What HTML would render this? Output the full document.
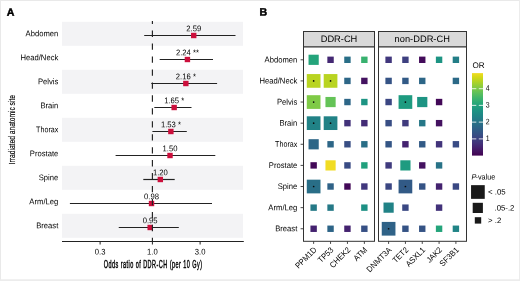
<!DOCTYPE html>
<html><head><meta charset="utf-8"><style>
html,body{margin:0;padding:0;background:#fff;width:520px;height:281px;overflow:hidden;}
text{font-family:"Liberation Sans", sans-serif;}
</style></head><body>
<svg width="520" height="281" viewBox="0 0 520 281" style="display:block;will-change:transform" font-family='"Liberation Sans", sans-serif'>
<rect x="0" y="0" width="520" height="281" fill="#ffffff"/>
<rect x="0" y="0" width="520" height="1" fill="#e9e9e9"/>
<rect x="0" y="0" width="1" height="281" fill="#e9e9e9"/>
<rect x="519" y="0" width="1" height="281" fill="#ececec"/>
<rect x="0" y="279.3" width="520" height="1.7" fill="#ececec"/>
<text transform="translate(6.70,15.70) rotate(0.05)" font-size="10.6" text-anchor="start" fill="#000" font-weight="bold" stroke="#000" stroke-width="0.45">A</text>
<text transform="translate(14.8,164.2) rotate(-90) scale(0.72,1)" x="0" y="0" font-size="9.4" fill="#000000" stroke="#000000" stroke-width="0.15" textLength="96.1" lengthAdjust="spacing">Irradiated anatomic site</text>
<rect x="62" y="21.80" width="181" height="24" fill="#f3f3f5"/>
<rect x="62" y="69.80" width="181" height="24" fill="#f3f3f5"/>
<rect x="62" y="117.80" width="181" height="24" fill="#f3f3f5"/>
<rect x="62" y="165.80" width="181" height="24" fill="#f3f3f5"/>
<rect x="62" y="213.80" width="181" height="24" fill="#f3f3f5"/>
<text transform="translate(58.30,36.35) rotate(0.05) scale(0.935,1)" font-size="8.2" text-anchor="end" fill="#000000" >Abdomen</text>
<text transform="translate(58.30,60.35) rotate(0.05) scale(0.935,1)" font-size="8.2" text-anchor="end" fill="#000000" >Head/Neck</text>
<text transform="translate(58.30,84.35) rotate(0.05) scale(0.935,1)" font-size="8.2" text-anchor="end" fill="#000000" >Pelvis</text>
<text transform="translate(58.30,108.35) rotate(0.05) scale(0.935,1)" font-size="8.2" text-anchor="end" fill="#000000" >Brain</text>
<text transform="translate(58.30,132.35) rotate(0.05) scale(0.87,1)" font-size="8.2" text-anchor="end" fill="#000000" >Thorax</text>
<text transform="translate(58.30,156.35) rotate(0.05) scale(0.935,1)" font-size="8.2" text-anchor="end" fill="#000000" >Prostate</text>
<text transform="translate(58.30,180.35) rotate(0.05) scale(0.935,1)" font-size="8.2" text-anchor="end" fill="#000000" >Spine</text>
<text transform="translate(58.30,204.35) rotate(0.05) scale(0.935,1)" font-size="8.2" text-anchor="end" fill="#000000" >Arm/Leg</text>
<text transform="translate(58.30,228.35) rotate(0.05) scale(0.935,1)" font-size="8.2" text-anchor="end" fill="#000000" >Breast</text>
<line x1="144.2" y1="35.50" x2="235.5" y2="35.50" stroke="#222" stroke-width="1.2"/>
<rect x="191.03" y="32.80" width="5.4" height="5.4" fill="#cc0f3c"/>
<text transform="translate(193.73,31.20) rotate(0.05) scale(0.935,1)" font-size="8.2" text-anchor="middle" fill="#000000" xml:space="preserve">2.59</text>
<line x1="159.7" y1="59.50" x2="213.0" y2="59.50" stroke="#222" stroke-width="1.2"/>
<rect x="184.72" y="56.80" width="5.4" height="5.4" fill="#cc0f3c"/>
<text transform="translate(187.42,55.20) rotate(0.05) scale(0.935,1)" font-size="8.2" text-anchor="middle" fill="#000000" xml:space="preserve">2.24 **</text>
<line x1="151.3" y1="83.50" x2="217.1" y2="83.50" stroke="#222" stroke-width="1.2"/>
<rect x="183.15" y="80.80" width="5.4" height="5.4" fill="#cc0f3c"/>
<text transform="translate(185.85,79.20) rotate(0.05) scale(0.935,1)" font-size="8.2" text-anchor="middle" fill="#000000" xml:space="preserve">2.16 *</text>
<line x1="154.3" y1="107.50" x2="191.5" y2="107.50" stroke="#222" stroke-width="1.2"/>
<rect x="171.45" y="104.80" width="5.4" height="5.4" fill="#cc0f3c"/>
<text transform="translate(174.15,103.20) rotate(0.05) scale(0.935,1)" font-size="8.2" text-anchor="middle" fill="#000000" xml:space="preserve">1.65 *</text>
<line x1="152.4" y1="131.50" x2="186.8" y2="131.50" stroke="#222" stroke-width="1.2"/>
<rect x="168.17" y="128.80" width="5.4" height="5.4" fill="#cc0f3c"/>
<text transform="translate(170.87,127.20) rotate(0.05) scale(0.935,1)" font-size="8.2" text-anchor="middle" fill="#000000" xml:space="preserve">1.53 *</text>
<line x1="115.6" y1="155.50" x2="215.3" y2="155.50" stroke="#222" stroke-width="1.2"/>
<rect x="167.31" y="152.80" width="5.4" height="5.4" fill="#cc0f3c"/>
<text transform="translate(170.01,151.20) rotate(0.05) scale(0.935,1)" font-size="8.2" text-anchor="middle" fill="#000000" xml:space="preserve">1.50</text>
<line x1="143.3" y1="179.50" x2="174.7" y2="179.50" stroke="#222" stroke-width="1.2"/>
<rect x="157.62" y="176.80" width="5.4" height="5.4" fill="#cc0f3c"/>
<text transform="translate(160.32,175.20) rotate(0.05) scale(0.935,1)" font-size="8.2" text-anchor="middle" fill="#000000" xml:space="preserve">1.20</text>
<line x1="69.9" y1="203.50" x2="212.0" y2="203.50" stroke="#222" stroke-width="1.2"/>
<rect x="148.82" y="200.80" width="5.4" height="5.4" fill="#cc0f3c"/>
<text transform="translate(151.52,199.20) rotate(0.05) scale(0.935,1)" font-size="8.2" text-anchor="middle" fill="#000000" xml:space="preserve">0.98</text>
<line x1="118.75" y1="227.50" x2="178.8" y2="227.50" stroke="#222" stroke-width="1.2"/>
<rect x="147.47" y="224.80" width="5.4" height="5.4" fill="#cc0f3c"/>
<text transform="translate(150.17,223.20) rotate(0.05) scale(0.935,1)" font-size="8.2" text-anchor="middle" fill="#000000" xml:space="preserve">0.95</text>
<line x1="152.4" y1="21" x2="152.4" y2="241.5" stroke="#222" stroke-width="1.15" stroke-dasharray="6.3 6.65" stroke-dashoffset="3.35"/>
<line x1="62" y1="241.5" x2="243.8" y2="241.5" stroke="#222" stroke-width="1.1"/>
<line x1="100.11" y1="241.5" x2="100.11" y2="244.5" stroke="#222" stroke-width="1"/>
<text transform="translate(100.11,254.50) rotate(0.05) scale(0.935,1)" font-size="8.2" text-anchor="middle" fill="#000000" >0.3</text>
<line x1="152.40" y1="241.5" x2="152.40" y2="244.5" stroke="#222" stroke-width="1"/>
<text transform="translate(152.40,254.50) rotate(0.05) scale(0.935,1)" font-size="8.2" text-anchor="middle" fill="#000000" >1.0</text>
<line x1="200.11" y1="241.5" x2="200.11" y2="244.5" stroke="#222" stroke-width="1"/>
<text transform="translate(200.11,254.50) rotate(0.05) scale(0.935,1)" font-size="8.2" text-anchor="middle" fill="#000000" >3.0</text>
<text transform="translate(103.7,267.6) scale(0.53,1)" x="0" y="0" font-size="10.4" fill="#000000" stroke="#000000" stroke-width="0.42" textLength="185.7" lengthAdjust="spacing">Odds ratio of DDR-CH (per 10 Gy)</text>
<text transform="translate(259.40,15.60) rotate(0.05)" font-size="10.6" text-anchor="start" fill="#000" font-weight="bold" stroke="#000" stroke-width="0.45">B</text>
<rect x="303.5" y="31.5" width="71.0" height="15.5" fill="#d9d9d9" stroke="#333" stroke-width="1"/>
<text transform="translate(339.00,42.00) rotate(0.05)" font-size="9.3" text-anchor="middle" fill="#000000" >DDR-CH</text>
<rect x="303.5" y="47.0" width="71.0" height="194.30" fill="#fff" stroke="#333" stroke-width="1"/>
<line x1="313.64" y1="241.3" x2="313.64" y2="243.90" stroke="#333" stroke-width="0.9"/>
<text transform="translate(313.04,246.30) rotate(-45) scale(0.935,1)" font-size="8.2" text-anchor="end" fill="#000000" dominant-baseline="hanging">PPM1D</text>
<line x1="330.55" y1="241.3" x2="330.55" y2="243.90" stroke="#333" stroke-width="0.9"/>
<text transform="translate(329.95,246.30) rotate(-45) scale(0.935,1)" font-size="8.2" text-anchor="end" fill="#000000" dominant-baseline="hanging">TP53</text>
<line x1="347.45" y1="241.3" x2="347.45" y2="243.90" stroke="#333" stroke-width="0.9"/>
<text transform="translate(346.85,246.30) rotate(-45) scale(0.935,1)" font-size="8.2" text-anchor="end" fill="#000000" dominant-baseline="hanging">CHEK2</text>
<line x1="364.36" y1="241.3" x2="364.36" y2="243.90" stroke="#333" stroke-width="0.9"/>
<text transform="translate(363.76,246.30) rotate(-45) scale(0.935,1)" font-size="8.2" text-anchor="end" fill="#000000" dominant-baseline="hanging">ATM</text>
<rect x="378.5" y="31.5" width="88.0" height="15.5" fill="#d9d9d9" stroke="#333" stroke-width="1"/>
<text transform="translate(422.25,42.00) rotate(0.05)" font-size="9.3" text-anchor="middle" fill="#000000" >non-DDR-CH</text>
<rect x="378.5" y="47.0" width="88.0" height="194.30" fill="#fff" stroke="#333" stroke-width="1"/>
<line x1="388.60" y1="241.3" x2="388.60" y2="243.90" stroke="#333" stroke-width="0.9"/>
<text transform="translate(388.00,246.30) rotate(-45) scale(0.935,1)" font-size="8.2" text-anchor="end" fill="#000000" dominant-baseline="hanging">DNMT3A</text>
<line x1="405.42" y1="241.3" x2="405.42" y2="243.90" stroke="#333" stroke-width="0.9"/>
<text transform="translate(404.82,246.30) rotate(-45) scale(0.935,1)" font-size="8.2" text-anchor="end" fill="#000000" dominant-baseline="hanging">TET2</text>
<line x1="422.25" y1="241.3" x2="422.25" y2="243.90" stroke="#333" stroke-width="0.9"/>
<text transform="translate(421.65,246.30) rotate(-45) scale(0.935,1)" font-size="8.2" text-anchor="end" fill="#000000" dominant-baseline="hanging">ASXL1</text>
<line x1="439.08" y1="241.3" x2="439.08" y2="243.90" stroke="#333" stroke-width="0.9"/>
<text transform="translate(438.48,246.30) rotate(-45) scale(0.935,1)" font-size="8.2" text-anchor="end" fill="#000000" dominant-baseline="hanging">JAK2</text>
<line x1="455.90" y1="241.3" x2="455.90" y2="243.90" stroke="#333" stroke-width="0.9"/>
<text transform="translate(455.30,246.30) rotate(-45) scale(0.935,1)" font-size="8.2" text-anchor="end" fill="#000000" dominant-baseline="hanging">SF3B1</text>
<text transform="translate(297.30,62.40) rotate(0.05) scale(0.935,1)" font-size="8.2" text-anchor="end" fill="#000000" >Abdomen</text>
<line x1="300.6" y1="59.80" x2="303.5" y2="59.80" stroke="#333" stroke-width="0.9"/>
<text transform="translate(297.30,83.52) rotate(0.05) scale(0.935,1)" font-size="8.2" text-anchor="end" fill="#000000" >Head/Neck</text>
<line x1="300.6" y1="80.92" x2="303.5" y2="80.92" stroke="#333" stroke-width="0.9"/>
<text transform="translate(297.30,104.64) rotate(0.05) scale(0.935,1)" font-size="8.2" text-anchor="end" fill="#000000" >Pelvis</text>
<line x1="300.6" y1="102.04" x2="303.5" y2="102.04" stroke="#333" stroke-width="0.9"/>
<text transform="translate(297.30,125.76) rotate(0.05) scale(0.935,1)" font-size="8.2" text-anchor="end" fill="#000000" >Brain</text>
<line x1="300.6" y1="123.16" x2="303.5" y2="123.16" stroke="#333" stroke-width="0.9"/>
<text transform="translate(297.30,146.88) rotate(0.05) scale(0.87,1)" font-size="8.2" text-anchor="end" fill="#000000" >Thorax</text>
<line x1="300.6" y1="144.28" x2="303.5" y2="144.28" stroke="#333" stroke-width="0.9"/>
<text transform="translate(297.30,168.00) rotate(0.05) scale(0.935,1)" font-size="8.2" text-anchor="end" fill="#000000" >Prostate</text>
<line x1="300.6" y1="165.40" x2="303.5" y2="165.40" stroke="#333" stroke-width="0.9"/>
<text transform="translate(297.30,189.12) rotate(0.05) scale(0.935,1)" font-size="8.2" text-anchor="end" fill="#000000" >Spine</text>
<line x1="300.6" y1="186.52" x2="303.5" y2="186.52" stroke="#333" stroke-width="0.9"/>
<text transform="translate(297.30,210.24) rotate(0.05) scale(0.935,1)" font-size="8.2" text-anchor="end" fill="#000000" >Arm/Leg</text>
<line x1="300.6" y1="207.64" x2="303.5" y2="207.64" stroke="#333" stroke-width="0.9"/>
<text transform="translate(297.30,231.36) rotate(0.05) scale(0.935,1)" font-size="8.2" text-anchor="end" fill="#000000" >Breast</text>
<line x1="300.6" y1="228.76" x2="303.5" y2="228.76" stroke="#333" stroke-width="0.9"/>
<rect x="308.54" y="54.70" width="10.2" height="10.2" fill="#24a47b"/>
<rect x="327.35" y="56.60" width="6.4" height="6.4" fill="#442873"/>
<rect x="344.25" y="56.60" width="6.4" height="6.4" fill="#296e87"/>
<rect x="361.16" y="56.60" width="6.4" height="6.4" fill="#38b16f"/>
<rect x="385.40" y="56.60" width="6.4" height="6.4" fill="#41377d"/>
<rect x="402.22" y="56.60" width="6.4" height="6.4" fill="#3e4080"/>
<rect x="419.05" y="56.60" width="6.4" height="6.4" fill="#430b5a"/>
<rect x="435.88" y="56.60" width="6.4" height="6.4" fill="#1d9483"/>
<rect x="452.70" y="56.60" width="6.4" height="6.4" fill="#237e87"/>
<rect x="306.79" y="74.07" width="13.7" height="13.7" fill="#b9d421"/>
<circle cx="313.64" cy="80.92" r="0.85" fill="#0a0a0a"/>
<rect x="323.70" y="74.07" width="13.7" height="13.7" fill="#b9d421"/>
<circle cx="330.55" cy="80.92" r="0.85" fill="#0a0a0a"/>
<rect x="344.25" y="77.72" width="6.4" height="6.4" fill="#2d6687"/>
<rect x="361.16" y="77.72" width="6.4" height="6.4" fill="#441260"/>
<rect x="385.40" y="77.72" width="6.4" height="6.4" fill="#355385"/>
<rect x="402.22" y="77.72" width="6.4" height="6.4" fill="#325a86"/>
<rect x="419.05" y="77.72" width="6.4" height="6.4" fill="#2d6687"/>
<rect x="452.70" y="77.72" width="6.4" height="6.4" fill="#2b6987"/>
<rect x="306.79" y="95.19" width="13.7" height="13.7" fill="#7fca46"/>
<circle cx="313.64" cy="102.04" r="0.85" fill="#0a0a0a"/>
<rect x="325.45" y="96.94" width="10.2" height="10.2" fill="#64c357"/>
<rect x="344.25" y="98.84" width="6.4" height="6.4" fill="#2d6687"/>
<rect x="361.16" y="98.84" width="6.4" height="6.4" fill="#1d9483"/>
<rect x="385.40" y="98.84" width="6.4" height="6.4" fill="#3b4682"/>
<rect x="398.57" y="95.19" width="13.7" height="13.7" fill="#1e9b80"/>
<circle cx="405.42" cy="102.04" r="0.85" fill="#0a0a0a"/>
<rect x="417.15" y="96.94" width="10.2" height="10.2" fill="#1d9483"/>
<rect x="435.88" y="98.84" width="6.4" height="6.4" fill="#420857"/>
<rect x="306.79" y="116.31" width="13.7" height="13.7" fill="#218286"/>
<circle cx="313.64" cy="123.16" r="0.85" fill="#0a0a0a"/>
<rect x="323.70" y="116.31" width="13.7" height="13.7" fill="#218286"/>
<circle cx="330.55" cy="123.16" r="0.85" fill="#0a0a0a"/>
<rect x="344.25" y="119.96" width="6.4" height="6.4" fill="#42327a"/>
<rect x="361.16" y="119.96" width="6.4" height="6.4" fill="#432c76"/>
<rect x="385.40" y="119.96" width="6.4" height="6.4" fill="#384e84"/>
<rect x="402.22" y="119.96" width="6.4" height="6.4" fill="#403b7e"/>
<rect x="419.05" y="119.96" width="6.4" height="6.4" fill="#267787"/>
<rect x="435.88" y="119.96" width="6.4" height="6.4" fill="#441260"/>
<rect x="308.54" y="139.18" width="10.2" height="10.2" fill="#2d6687"/>
<rect x="327.35" y="141.08" width="6.4" height="6.4" fill="#2d6687"/>
<rect x="344.25" y="141.08" width="6.4" height="6.4" fill="#384e84"/>
<rect x="361.16" y="141.08" width="6.4" height="6.4" fill="#296e87"/>
<rect x="385.40" y="141.08" width="6.4" height="6.4" fill="#345585"/>
<rect x="402.22" y="141.08" width="6.4" height="6.4" fill="#44226f"/>
<rect x="419.05" y="141.08" width="6.4" height="6.4" fill="#325a86"/>
<rect x="435.88" y="141.08" width="6.4" height="6.4" fill="#42347b"/>
<rect x="452.70" y="141.08" width="6.4" height="6.4" fill="#394b84"/>
<rect x="310.44" y="162.20" width="6.4" height="6.4" fill="#420857"/>
<rect x="325.45" y="160.30" width="10.2" height="10.2" fill="#f1dc23"/>
<rect x="344.25" y="162.20" width="6.4" height="6.4" fill="#394b84"/>
<rect x="361.16" y="162.20" width="6.4" height="6.4" fill="#21a07d"/>
<rect x="385.40" y="162.20" width="6.4" height="6.4" fill="#403b7e"/>
<rect x="400.32" y="160.30" width="10.2" height="10.2" fill="#1e9b80"/>
<rect x="419.05" y="162.20" width="6.4" height="6.4" fill="#441260"/>
<rect x="435.88" y="162.20" width="6.4" height="6.4" fill="#287287"/>
<rect x="306.79" y="179.67" width="13.7" height="13.7" fill="#296e87"/>
<circle cx="313.64" cy="186.52" r="0.85" fill="#0a0a0a"/>
<rect x="327.35" y="183.32" width="6.4" height="6.4" fill="#2f6287"/>
<rect x="344.25" y="183.32" width="6.4" height="6.4" fill="#420857"/>
<rect x="361.16" y="183.32" width="6.4" height="6.4" fill="#41377d"/>
<rect x="385.40" y="183.32" width="6.4" height="6.4" fill="#3b4682"/>
<rect x="398.57" y="179.67" width="13.7" height="13.7" fill="#325a86"/>
<circle cx="405.42" cy="186.52" r="0.85" fill="#0a0a0a"/>
<rect x="419.05" y="183.32" width="6.4" height="6.4" fill="#355385"/>
<rect x="435.88" y="183.32" width="6.4" height="6.4" fill="#44226f"/>
<rect x="452.70" y="183.32" width="6.4" height="6.4" fill="#3a4883"/>
<rect x="310.44" y="204.44" width="6.4" height="6.4" fill="#257987"/>
<rect x="327.35" y="204.44" width="6.4" height="6.4" fill="#257987"/>
<rect x="361.16" y="204.44" width="6.4" height="6.4" fill="#1d9084"/>
<rect x="383.50" y="202.54" width="10.2" height="10.2" fill="#218286"/>
<rect x="402.22" y="204.44" width="6.4" height="6.4" fill="#3a4883"/>
<rect x="435.88" y="204.44" width="6.4" height="6.4" fill="#42327a"/>
<rect x="310.44" y="225.56" width="6.4" height="6.4" fill="#44226f"/>
<rect x="327.35" y="225.56" width="6.4" height="6.4" fill="#2d6487"/>
<rect x="344.25" y="225.56" width="6.4" height="6.4" fill="#44226f"/>
<rect x="361.16" y="225.56" width="6.4" height="6.4" fill="#375085"/>
<rect x="381.75" y="221.91" width="13.7" height="13.7" fill="#2f6287"/>
<circle cx="388.60" cy="228.76" r="0.85" fill="#0a0a0a"/>
<rect x="402.22" y="225.56" width="6.4" height="6.4" fill="#355385"/>
<rect x="419.05" y="225.56" width="6.4" height="6.4" fill="#355385"/>
<rect x="435.88" y="225.56" width="6.4" height="6.4" fill="#24a47b"/>
<rect x="452.70" y="225.56" width="6.4" height="6.4" fill="#218486"/>
<text transform="translate(472.40,68.00) rotate(0.05)" font-size="8.1" text-anchor="start" fill="#000000" >OR</text>
<defs><linearGradient id="vg" x1="0" y1="1" x2="0" y2="0">
<stop offset="0.000" stop-color="#410150"/>
<stop offset="0.050" stop-color="#441260"/>
<stop offset="0.100" stop-color="#44226f"/>
<stop offset="0.150" stop-color="#42327a"/>
<stop offset="0.200" stop-color="#3e4080"/>
<stop offset="0.250" stop-color="#384e84"/>
<stop offset="0.300" stop-color="#325a86"/>
<stop offset="0.350" stop-color="#2d6687"/>
<stop offset="0.400" stop-color="#287287"/>
<stop offset="0.450" stop-color="#237e87"/>
<stop offset="0.500" stop-color="#1f8985"/>
<stop offset="0.550" stop-color="#1d9483"/>
<stop offset="0.600" stop-color="#21a07d"/>
<stop offset="0.650" stop-color="#2dab76"/>
<stop offset="0.700" stop-color="#41b56b"/>
<stop offset="0.750" stop-color="#59bf5d"/>
<stop offset="0.800" stop-color="#74c74d"/>
<stop offset="0.850" stop-color="#93ce39"/>
<stop offset="0.900" stop-color="#b4d424"/>
<stop offset="0.950" stop-color="#d4d817"/>
<stop offset="1.000" stop-color="#f1dc23"/>
</linearGradient></defs>
<rect x="472" y="73.1" width="11" height="82.50" fill="url(#vg)"/>
<line x1="472" y1="138.87" x2="476.3" y2="138.87" stroke="#fff" stroke-opacity="0.75" stroke-width="1.1"/>
<line x1="478.8" y1="138.87" x2="483" y2="138.87" stroke="#fff" stroke-opacity="0.75" stroke-width="1.1"/>
<text transform="translate(485.70,140.97) rotate(0.05) scale(0.88,1)" font-size="7.9" text-anchor="start" fill="#000000" >1</text>
<line x1="472" y1="122.13" x2="476.3" y2="122.13" stroke="#fff" stroke-opacity="0.75" stroke-width="1.1"/>
<line x1="478.8" y1="122.13" x2="483" y2="122.13" stroke="#fff" stroke-opacity="0.75" stroke-width="1.1"/>
<text transform="translate(485.70,124.23) rotate(0.05) scale(0.88,1)" font-size="7.9" text-anchor="start" fill="#000000" >2</text>
<line x1="472" y1="105.40" x2="476.3" y2="105.40" stroke="#fff" stroke-opacity="0.75" stroke-width="1.1"/>
<line x1="478.8" y1="105.40" x2="483" y2="105.40" stroke="#fff" stroke-opacity="0.75" stroke-width="1.1"/>
<text transform="translate(485.70,107.50) rotate(0.05) scale(0.88,1)" font-size="7.9" text-anchor="start" fill="#000000" >3</text>
<line x1="472" y1="88.66" x2="476.3" y2="88.66" stroke="#fff" stroke-opacity="0.75" stroke-width="1.1"/>
<line x1="478.8" y1="88.66" x2="483" y2="88.66" stroke="#fff" stroke-opacity="0.75" stroke-width="1.1"/>
<text transform="translate(485.70,90.76) rotate(0.05) scale(0.88,1)" font-size="7.9" text-anchor="start" fill="#000000" >4</text>
<text transform="translate(471.40,179.50) rotate(0.05) scale(0.93,1)" font-size="7.8" text-anchor="start" fill="#000000" ><tspan font-style="italic">P</tspan><tspan dx="-0.7">-value</tspan></text>
<rect x="471.05" y="185.15" width="13.7" height="13.7" fill="#1a1a1a"/>
<text transform="translate(488.00,194.60) rotate(0.05)" font-size="7.8" text-anchor="start" fill="#000000" >&lt; .05</text>
<rect x="472.70" y="202.80" width="10.2" height="10.2" fill="#1a1a1a"/>
<text transform="translate(494.50,210.50) rotate(0.05)" font-size="7.8" text-anchor="start" fill="#000000" >.05-.2</text>
<rect x="474.80" y="217.20" width="6.4" height="6.4" fill="#1a1a1a"/>
<text transform="translate(488.00,223.00) rotate(0.05)" font-size="7.8" text-anchor="start" fill="#000000" >&gt; .2</text>
</svg>
</body></html>
